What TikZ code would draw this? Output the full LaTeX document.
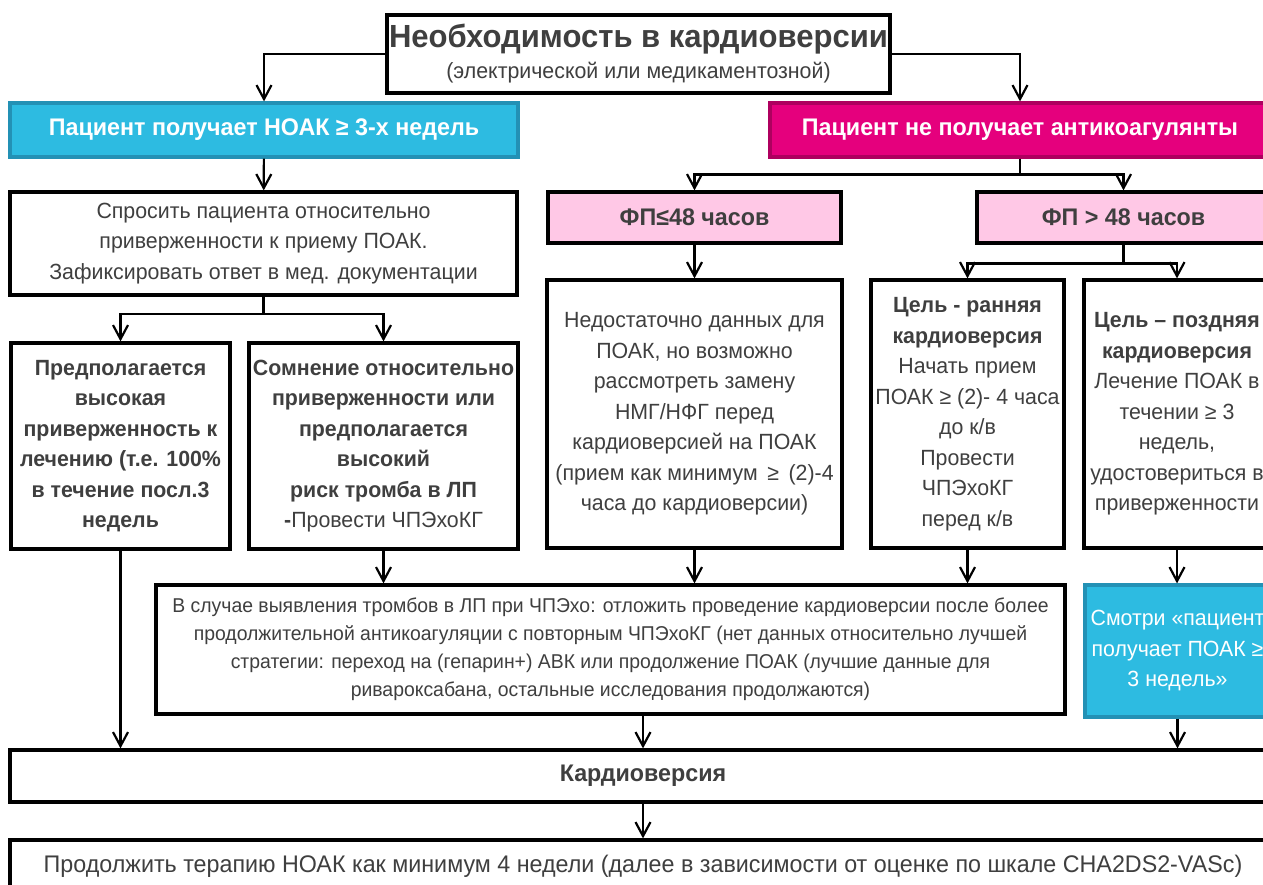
\documentclass[tikz,border=0pt]{standalone}
\usepackage{fontspec}
\setmainfont{Liberation Sans}[FakeStretch=0.97]
\usetikzlibrary{arrows.meta}
\definecolor{txtgray}{HTML}{3F3F3F}
\definecolor{noacblue}{HTML}{2DBBE1}
\definecolor{noacedge}{HTML}{2391B5}
\definecolor{noanti}{HTML}{E5007D}
\definecolor{noantiedge}{HTML}{AE005F}
\definecolor{fppink}{HTML}{FFC8E6}

\begin{document}
\begin{tikzpicture}[x=1pt, y=-1pt]
\tikzset{comp/.style={draw, rectangle, line width=3.2pt, fill=white, text=txtgray, align=center, inner sep=0pt, font=\fontsize{22}{30.5}\selectfont},
  bcomp/.style={comp, font=\fontsize{22}{30.5}\selectfont\bfseries},
  cyanbox/.style={comp, fill=noacblue, draw=noacedge, text=white},
  magbox/.style={comp, fill=noanti, draw=noantiedge, text=white},
  pinkbox/.style={comp, fill=fppink},
  lin/.style={line width=2.2pt},
  arr/.style={lin, -{Straight Barb[length=14pt, width=15pt, line width=2.2pt]}}}
\useasboundingbox (0,0) rectangle (1263,885);
\clip (0,0) rectangle (1263,885);
\fill[white] (0,0) rectangle (1263,885);

\node[comp, minimum width=503, minimum height=78, font=\fontsize{32}{31}\selectfont\bfseries] (need) at (638.5,54) {Необходимость в кардиоверсии\\{\mdseries\fontsize{22}{31}\selectfont (электрической или медикаментозной)}};
\node[cyanbox, minimum width=508, minimum height=54, font=\fontsize{24}{28}\selectfont\bfseries] (onnoac) at (264,130) {Пациент получает НОАК ≥ 3-х недель};
\node[magbox, minimum width=500, minimum height=54, font=\fontsize{24}{28}\selectfont\bfseries] (noanti) at (1020,130) {Пациент не получает антикоагулянты};
\node[comp, minimum width=507, minimum height=103] (ask) at (263.5,243.5) {Спросить пациента относительно\\приверженности к приему ПОАК.\\Зафиксировать ответ в мед. документации};
\node[pinkbox, minimum width=293, minimum height=51, font=\fontsize{24}{28}\selectfont\bfseries] (short) at (694.5,217.5) {ФП≤48 часов};
\node[pinkbox, minimum width=293, minimum height=51, font=\fontsize{24}{28}\selectfont\bfseries] (long) at (1123.5,217.5) {ФП > 48 часов};

\node[bcomp, minimum width=219, minimum height=206] (high) at (120.5,446) {Предполагается\\высокая\\приверженность к\\лечению (т.е. 100\%\\в течение посл.3\\недель};
\node[bcomp, minimum width=269, minimum height=206] (doubt) at (383.5,446) {Сомнение относительно\\приверженности или\\предполагается\\высокий\\риск тромба в ЛП\\-{\mdseries Провести ЧПЭхоКГ}};
\node[comp, minimum width=295, minimum height=268] (nodata) at (694.5,414) {Недостаточно данных для\\ПОАК, но возможно\\рассмотреть замену\\НМГ/НФГ перед\\кардиоверсией на ПОАК\\(прием как минимум \,≥\, (2)-4\\часа до кардиоверсии)};
\node[bcomp, minimum width=193, minimum height=268] (early) at (967.5,414) {Цель - ранняя\\кардиоверсия\\{\mdseries Начать прием}\\{\mdseries ПОАК ≥ (2)- 4 часа}\\{\mdseries до к/в}\\{\mdseries Провести}\\{\mdseries ЧПЭхоКГ}\\{\mdseries перед к/в}};
\node[bcomp, minimum width=186, minimum height=268] (late) at (1177,414) {Цель – поздняя\\кардиоверсия\\{\mdseries Лечение ПОАК в}\\{\mdseries течении ≥ 3}\\{\mdseries недель,}\\{\mdseries удостовериться в}\\{\mdseries приверженности}};

\node[comp, minimum width=909, minimum height=129, font=\fontsize{20}{28}\selectfont] (thromb) at (610.5,649.5) {В случае выявления тромбов в ЛП при ЧПЭхо: отложить проведение кардиоверсии после более\\продолжительной антикоагуляции с повторным ЧПЭхоКГ (нет данных относительно лучшей\\стратегии: переход на (гепарин+) АВК или продолжение ПОАК (лучшие данные для\\ривароксабана, остальные исследования продолжаются)};
\node[cyanbox, minimum width=185, minimum height=132] (see) at (1177.5,651) {Смотри «пациент\\получает ПОАК ≥\\3 недель»};
\node[comp, minimum width=1266, minimum height=52, font=\fontsize{24}{28}\selectfont\bfseries] (cv) at (643,776) {Кардиоверсия};
\node[comp, minimum width=1266, minimum height=52, font=\fontsize{24}{28}\selectfont] (cont) at (643,866) {Продолжить терапию НОАК как минимум 4 недели (далее в зависимости от оценке по шкале CHA2DS2-VASc)};

\draw[arr] (need.west) -| (onnoac.north); \draw[arr] (need.east) -| (noanti.north);
\draw[arr] (onnoac) -- (ask);
\draw[lin] (noanti.south) -- ++(0,16) coordinate (split1);
\draw[arr] (split1) -| (short.north); \draw[arr] (split1) -| (long.north);
\draw[lin] (ask.south) -- ++(0,17) coordinate (split2);
\draw[arr] (split2) -| (high.north); \draw[arr] (split2) -| (doubt.north);
\draw[arr] (short) -- (nodata);
\draw[lin] (long.south) -- ++(0,19) coordinate (split3);
\draw[arr] (split3) -| (early.north); \draw[arr] (split3) -| (late.north);
\draw[arr] (high.south) -- (high.south |- cv.north);
\draw[arr] (doubt.south) -- (doubt.south |- thromb.north);
\draw[arr] (nodata.south) -- (nodata.south |- thromb.north);
\draw[arr] (early.south) -- (early.south |- thromb.north);
\draw[arr] (late.south) -- (late.south |- see.north);
\draw[arr] (cv.north |- thromb.south) -- (cv.north);
\draw[arr] (see.south) -- (see.south |- cv.north);
\draw[arr] (cv) -- (cont);
\end{tikzpicture}
\end{document}
